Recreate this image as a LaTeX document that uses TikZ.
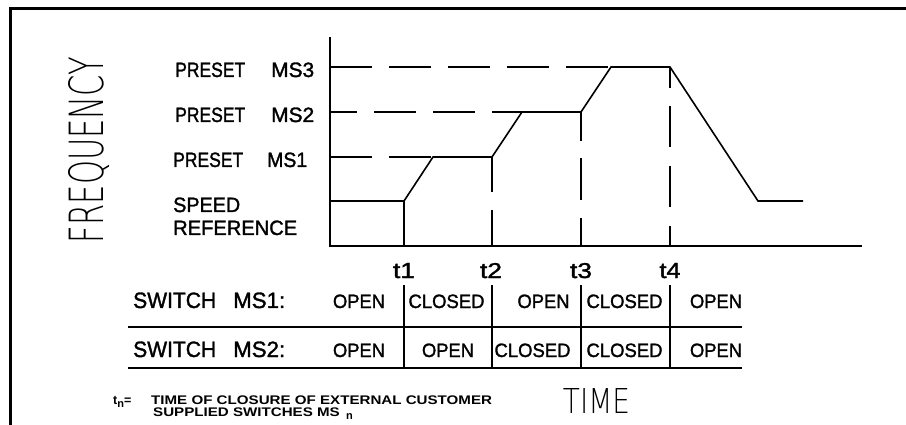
\documentclass[tikz,border=0pt]{standalone}
\usepackage{fontspec}
\setmainfont{Liberation Sans}
\newfontfamily\cadfont{Liberation Sans}[FakeBold=1.5]
\newfontfamily\thinfont{DejaVu Sans}[UprightFont=* ExtraLight]
\newcommand{\fitbox}[3]{\resizebox{#1pt}{#2pt}{#3}}
\begin{document}
\begin{tikzpicture}[x=1pt,y=-1pt,
  frame/.style={line width=3pt},
  ln/.style={line width=1.6pt},
  lbl/.style={inner sep=0pt, anchor=base west, font=\cadfont\fontsize{20}{24}\selectfont},
  cell/.style={inner sep=0pt, anchor=base, font=\cadfont\fontsize{18.5}{22}\selectfont},
  tlbl/.style={inner sep=0pt, anchor=base, font=\cadfont\fontsize{21}{24}\selectfont},
  note/.style={inner sep=0pt, anchor=base west, font=\fontsize{12.5}{14}\selectfont\bfseries}]
\useasboundingbox (0,0) rectangle (906,425);
% frame
\draw[frame] (10,425) -- (10,9) -- (906,9);
% axes
\coordinate (Ytop) at (330,37);
\coordinate (O) at (330,246);
\coordinate (Xend) at (862,246);
\draw[ln] (Ytop) -- (O) -- (Xend);
% key points
\coordinate (s0) at (330,201);
\coordinate (a1) at (404,201);
\coordinate (b1) at (433,157);
\coordinate (a2) at (492,157);
\coordinate (b2) at (522,112);
\coordinate (a3) at (581,112);
\coordinate (b3) at (611,67);
\coordinate (a4) at (670,67);
\coordinate (b4) at (758,201);
\coordinate (e4) at (803,201);
\coordinate (t1b) at (404,246);
\coordinate (t2b) at (492,246);
\coordinate (t3b) at (581,246);
\coordinate (t4b) at (670,246);
% frequency profile
\draw[ln, line join=miter] (s0) -- (a1) -- (b1) -- (a2) -- (b2) -- (a3) -- (b3) -- (a4) -- (b4) -- (e4);
\draw[ln] (a1) -- (t1b);
% preset dashed levels
\draw[ln, dash pattern=on 42pt off 17pt] (330,157) -- (b1);
\draw[ln, dash pattern=on 42pt off 17pt, dash phase=15pt] (330,112) -- (b2);
\draw[ln, dash pattern=on 42pt off 17pt] (330,67) -- (b3);
% time dashed verticals
\draw[ln, dash pattern=on 35pt off 18pt] (a2) -- (t2b);
\draw[ln, dash pattern=on 29pt off 17pt on 42pt off 18pt] (a3) -- (t3b);
\draw[ln, dash pattern=on 21pt off 18pt on 41pt off 19pt on 41pt off 19pt on 40pt off 1pt] (a4) -- (t4b);
% labels on frequency axis
\node[lbl] (ms3) at (175,77) {\fitbox{70}{14.5}{PRESET}\hspace{26pt}\fitbox{43}{14.5}{MS3}};
\node[lbl] (ms2) at (175,122) {\fitbox{70}{14.5}{PRESET}\hspace{26pt}\fitbox{43}{14.5}{MS2}};
\node[lbl] (ms1) at (173,167) {\fitbox{70}{14.5}{PRESET}\hspace{24pt}\fitbox{40}{14.5}{MS1}};
\node[lbl] (spd) at (173,212) {\fitbox{67}{14.5}{SPEED}};
\node[lbl] (ref) at (173,235) {\fitbox{124}{14.5}{REFERENCE}};
\node[rotate=90, anchor=base, inner sep=0pt] (freq) at (103,150) {\fitbox{186}{35}{\thinfont FREQUENCY}};
% t labels
\node[tlbl] (tl1) at (404,278) {\fitbox{22}{15}{t1}};
\node[tlbl] (tl2) at (491,278) {\fitbox{22}{15}{t2}};
\node[tlbl] (tl3) at (581,278) {\fitbox{22}{15}{t3}};
\node[tlbl] (tl4) at (670,278) {\fitbox{21}{15}{t4}};
% table
\coordinate (h1l) at (128,327); \coordinate (h1r) at (742,327);
\coordinate (h2l) at (128,368); \coordinate (h2r) at (742,368);
\draw[ln] (h1l) -- (h1r);
\draw[ln] (h2l) -- (h2r);
\foreach \t in {404,492,581,670} \draw[ln] (\t,285) -- (\t,368);
\node[lbl] (r1) at (133,308) {\fitbox{83}{15.5}{SWITCH}\hspace{17pt}\fitbox{52}{15.5}{MS1:}};
\node[lbl] (r2) at (133,357) {\fitbox{83}{15.5}{SWITCH}\hspace{17pt}\fitbox{52}{15.5}{MS2:}};
\node[cell] (c11) at (359,308) {\fitbox{52}{13.5}{OPEN}};
\node[cell] (c12) at (446.5,308) {\fitbox{76}{13.5}{CLOSED}};
\node[cell] (c13) at (543.5,308) {\fitbox{52}{13.5}{OPEN}};
\node[cell] (c14) at (624.5,308) {\fitbox{76}{13.5}{CLOSED}};
\node[cell] (c15) at (716,308) {\fitbox{52}{13.5}{OPEN}};
\node[cell] (c21) at (359,357) {\fitbox{52}{13.5}{OPEN}};
\node[cell] (c22) at (448,357) {\fitbox{52}{13.5}{OPEN}};
\node[cell] (c23) at (532.5,357) {\fitbox{76}{13.5}{CLOSED}};
\node[cell] (c24) at (624.5,357) {\fitbox{76}{13.5}{CLOSED}};
\node[cell] (c25) at (716,357) {\fitbox{52}{13.5}{OPEN}};
% time label
\node[inner sep=0pt, anchor=base] (time) at (596.5,413) {\fitbox{67}{25}{\thinfont TIME}};
% footnote
\node[note] (tn) at (113,404.5) {t\raisebox{-2.5pt}{\fontsize{11}{11}\selectfont n}=};
\node[note] (fn1) at (151,404.5) {\scalebox{1.21}[1]{TIME OF CLOSURE OF EXTERNAL CUSTOMER}};
\node[note] (fn2) at (153,416) {\scalebox{1.21}[1]{SUPPLIED SWITCHES MS}};
\node[note, font=\fontsize{11}{11}\selectfont\bfseries] (fnn) at ([xshift=6pt,yshift=-3pt]fn2.base east) {n};
\end{tikzpicture}
\end{document}
